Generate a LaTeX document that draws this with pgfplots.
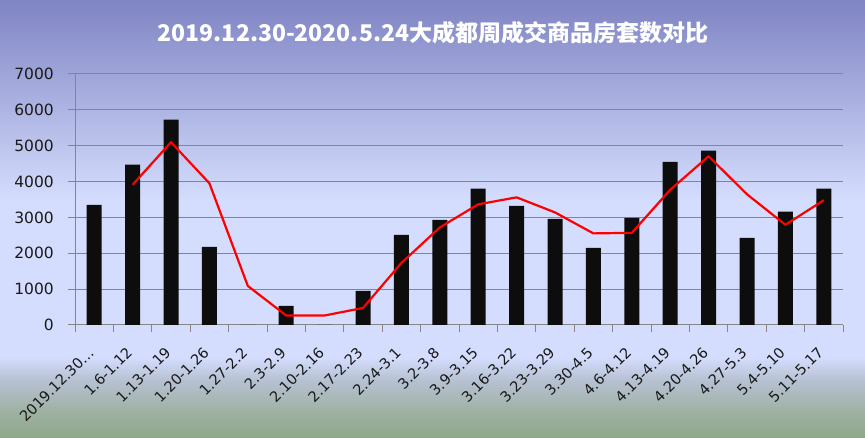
\documentclass[border=0pt]{standalone}
\usepackage{pgfplots}
\pgfplotsset{compat=1.18}
\usepackage{fontspec}
\setmainfont{DejaVu Sans}
\newfontfamily\cjk{Noto Sans CJK SC}
\definecolor{bgtop}{HTML}{7F84C3}
\definecolor{bglight}{HTML}{D4DDFD}
\definecolor{bgmid}{HTML}{B6C1D2}
\definecolor{bgmid2}{HTML}{A0B2A4}
\definecolor{bgbot}{HTML}{8EA88A}
\definecolor{barcol}{HTML}{0D0D0D}
\definecolor{gridcol}{HTML}{868686}
\pgfdeclareverticalshading{bgshade}{100bp}{color(0bp)=(bgbot); color(25bp)=(bgbot); color(28.2bp)=(bgmid2); color(31.6bp)=(bgmid); color(34.2bp)=(bglight); color(52.2bp)=(bglight); color(75bp)=(bgtop); color(100bp)=(bgtop)}
\pgfplotstableread{
x y
0 3350
1 4470
2 5725
3 2180
4 0
5 530
6 0
7 950
8 2510
9 2930
10 3800
11 3320
12 2960
13 2150
14 2990
15 4550
16 4860
17 2430
18 3160
19 3800
}\weekly
\pgfplotstableread{
x y
1 3910
2 5097.5
3 3952.5
4 1090
5 265
6 265
7 475
8 1730
9 2720
10 3365
11 3560
12 3140
13 2555
14 2570
15 3770
16 4705
17 3645
18 2795
19 3480
}\avg
\begin{document}
\begin{tikzpicture}[x=1pt,y=1pt]
\useasboundingbox (0,0) rectangle (865,438);
\shade[shading=bgshade] (0,0) rectangle (865,438);
\node[font=\cjk\bfseries\fontsize{23}{27}\selectfont, text=white, inner sep=0pt] at (433,405) {2019.12.30-2020.5.24大成都周成交商品房套数对比};
\begin{axis}[
  at={(75pt,113pt)}, anchor=south west,
  width=768pt, height=251pt, scale only axis,
  xmin=-0.5, xmax=19.5, ymin=0, ymax=7000,
  axis x line=bottom, axis y line=left,
  axis line style={-, draw=gridcol, line width=1pt},
  xtick={-0.5,0.5,...,19.5},
  x tick label as interval,
  xticklabels={2019.12.30…,1.6-1.12,1.13-1.19,1.20-1.26,1.27-2.2,2.3-2.9,2.10-2.16,2.17-2.23,2.24-3.1,3.2-3.8,3.9-3.15,3.16-3.22,3.23-3.29,3.30-4.5,4.6-4.12,4.13-4.19,4.20-4.26,4.27-5.3,5.4-5.10,5.11-5.17},
  ytick={0,1000,...,7000},
  tick align=outside,
  major tick length=7pt,
  tick style={draw=gridcol, line width=1pt},
  ymajorgrids,
  grid style={draw=gridcol, line width=1pt},
  /pgf/number format/assume math mode=true,
  /pgf/number format/1000 sep={},
  yticklabel style={font=\fontsize{15.5}{18}\selectfont, text=black!90, inner sep=0pt, xshift=-14pt},
  xticklabel style={font=\fontsize{14.5}{18}\selectfont, text=black!90, anchor=north east, inner sep=0pt, xshift=-7pt, yshift=-14pt, rotate=45},
]
\addplot[ybar, bar width=15pt, fill=barcol, draw=none] table[x=x,y=y] {\weekly};
\addplot[red, line width=2.2pt, line join=round, mark=none, sharp plot] table[x=x,y=y] {\avg};
\end{axis}
\end{tikzpicture}
\end{document}
